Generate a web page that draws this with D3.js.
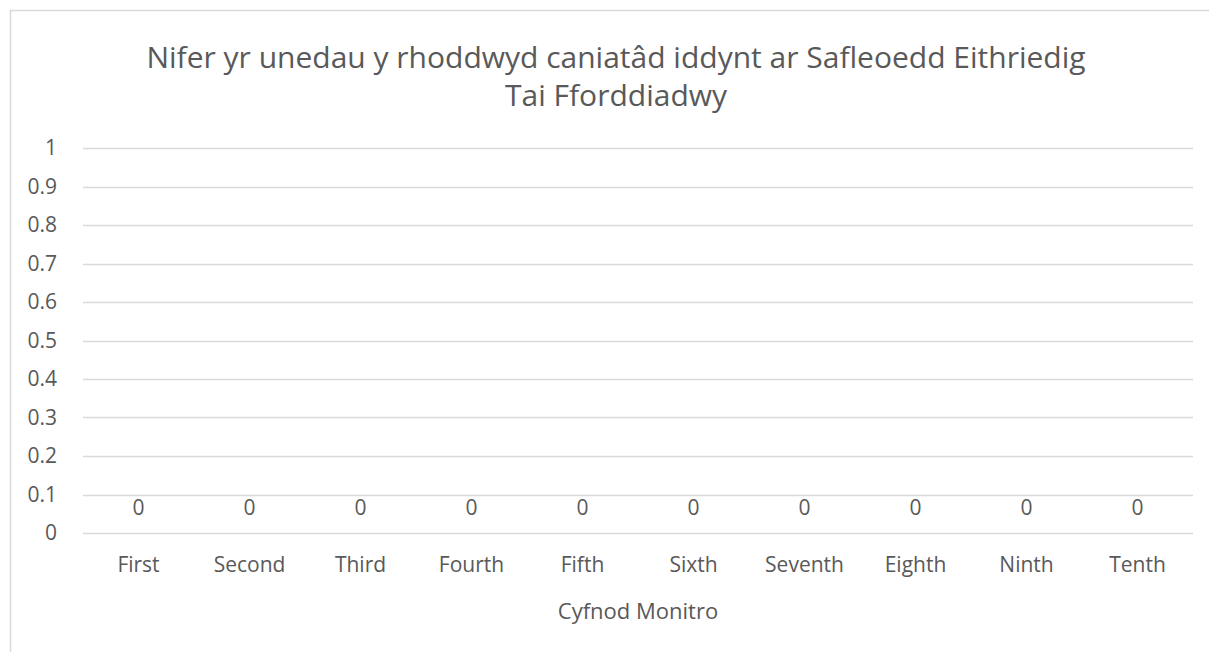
<!DOCTYPE html>
<html>
<head>
<meta charset="utf-8">
<script src="https://cdn.jsdelivr.net/npm/d3@7"></script>
<style>
  html, body { margin: 0; padding: 0; background: #fff; }
  svg text { font-family: "Open Sans", "Noto Sans", sans-serif; fill: #595959; }
</style>
</head>
<body>
<div id="chart"></div>
<script>
// chart data
const categories = ["First", "Second", "Third", "Fourth", "Fifth", "Sixth", "Seventh", "Eighth", "Ninth", "Tenth"];
const values = [0, 0, 0, 0, 0, 0, 0, 0, 0, 0];
const yTicks = [0, 0.1, 0.2, 0.3, 0.4, 0.5, 0.6, 0.7, 0.8, 0.9, 1];
const titleLines = ["Nifer yr unedau y rhoddwyd caniatâd iddynt ar Safleoedd Eithriedig", "Tai Fforddiadwy"];
const xTitle = "Cyfnod Monitro";

const width = 1209, height = 652;
const margin = {left: 83, right: 16, top: 148, bottom: 119};

const svg = d3.select("#chart")
    .append("svg")
    .attr("width", width)
    .attr("height", height);

// chart area border
svg.append("rect")
    .attr("x", 10.5)
    .attr("y", 10.5)
    .attr("width", width + 20)
    .attr("height", height + 20)
    .attr("fill", "none")
    .attr("stroke", "#d9d9d9")
    .attr("stroke-width", 1.5);

const x = d3.scaleBand()
    .domain(categories)
    .range([margin.left, width - margin.right]);

const y = d3.scaleLinear()
    .domain([0, 1])
    .range([height - margin.bottom, margin.top]);

// gridlines
svg.append("g")
    .selectAll("line")
    .data(yTicks)
    .join("line")
    .attr("x1", margin.left)
    .attr("x2", width - margin.right)
    .attr("y1", d => Math.round(y(d)) + 0.5)
    .attr("y2", d => Math.round(y(d)) + 0.5)
    .attr("stroke", "#d9d9d9")
    .attr("stroke-width", 1.5);

// y axis labels
const yAxis = d3.axisLeft(y).tickValues(yTicks).tickSize(0).tickPadding(0).tickFormat(d3.format("~g"));
svg.append("g")
    .attr("transform", `translate(${margin.left - 26},0)`)
    .call(yAxis)
    .call(g => g.select(".domain").remove())
    .call(g => g.selectAll("text")
        .attr("font-size", 21)
        .attr("font-family", null)
        .attr("fill", null));

// x axis labels
const xAxis = d3.axisBottom(x).tickSize(0).tickPadding(0);
svg.append("g")
    .attr("transform", `translate(0,${y(0) + 24})`)
    .call(xAxis)
    .call(g => g.select(".domain").remove())
    .call(g => g.selectAll("text")
        .attr("font-size", 21)
        .attr("font-family", null)
        .attr("fill", null));

// bars (zero height) and data labels
svg.append("g")
    .selectAll("rect")
    .data(values)
    .join("rect")
    .attr("x", (d, i) => x(categories[i]) + x.bandwidth() * 0.2)
    .attr("width", x.bandwidth() * 0.6)
    .attr("y", d => y(d))
    .attr("height", d => y(0) - y(d))
    .attr("fill", "#4472c4");

svg.append("g")
    .selectAll("text")
    .data(values)
    .join("text")
    .attr("x", (d, i) => x(categories[i]) + x.bandwidth() / 2)
    .attr("y", d => y(d) - 24)
    .attr("text-anchor", "middle")
    .attr("dominant-baseline", "middle")
    .attr("font-size", 21)
    .text(d => d);

// title
svg.append("text")
    .attr("x", 616)
    .attr("y", 57)
    .attr("text-anchor", "middle")
    .attr("font-size", 30)
    .selectAll("tspan")
    .data(titleLines)
    .join("tspan")
    .attr("x", 616)
    .attr("dy", (d, i) => i === 0 ? "0.35em" : 38)
    .text(d => d);

// x axis title
svg.append("text")
    .attr("x", (margin.left + width - margin.right) / 2)
    .attr("y", 613)
    .attr("text-anchor", "middle")
    .attr("dominant-baseline", "middle")
    .attr("font-size", 22)
    .text(xTitle);
</script>
</body>
</html>
